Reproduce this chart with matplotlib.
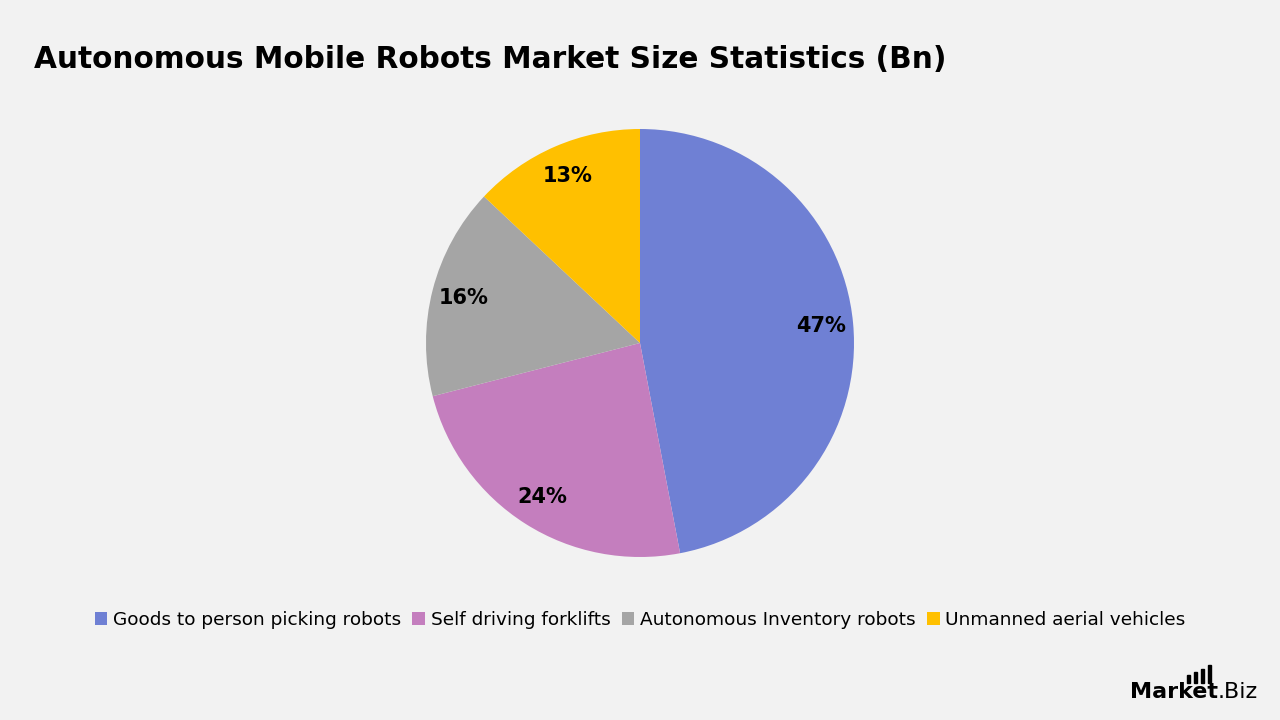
import matplotlib.pyplot as plt
from matplotlib.patches import Rectangle

categories = ["Goods to person picking robots", "Self driving forklifts",
              "Autonomous Inventory robots", "Unmanned aerial vehicles"]
shares = [47, 24, 16, 13]
colors = ["#6F80D4", "#C47EBE", "#A5A5A5", "#FFC000"]

bg = "#F2F2F2"
fig = plt.figure(figsize=(12.8, 7.2), dpi=100, facecolor=bg)

# pie axes: centre (640, 343), radius ~214 px
ax = fig.add_axes([(640 - 214) / 1280, 1 - (343 + 214) / 720, 428 / 1280, 428 / 720])
ax.set_facecolor(bg)
wedges, texts, autotexts = ax.pie(
    shares, colors=colors, startangle=90, counterclock=False,
    autopct="%d%%", pctdistance=0.85,
    wedgeprops=dict(linewidth=0),
    textprops=dict(fontsize=15, fontweight="bold", color="black"))
ax.set_xlim(-1, 1)
ax.set_ylim(-1, 1)
ax.set_aspect("equal")

fig.text(34 / 1280, 1 - 60 / 720, "Autonomous Mobile Robots Market Size Statistics (Bn)",
         fontsize=21.3, fontweight="bold", va="center", ha="left")

fig.legend(wedges, categories, loc="center", bbox_to_anchor=(0.5, 1 - 620 / 720),
           ncol=4, frameon=False, fontsize=13.3, handlelength=0.7, handleheight=0.7,
           handletextpad=0.3, columnspacing=0.6)

# logo
fig.text(1130 / 1280, 1 - 692 / 720, "Market", fontsize=16, fontweight="bold",
         va="center", ha="left")
fig.text(1218 / 1280, 1 - 692 / 720, ".Biz", fontsize=16, va="center", ha="left")
for i, h in enumerate([8, 11, 14, 18]):
    fig.patches.append(Rectangle(((1187 + i * 7) / 1280, 1 - 683 / 720), 3 / 1280, h / 720,
                                 transform=fig.transFigure, color="black"))

fig.savefig("out.png", dpi=100, facecolor=bg)
